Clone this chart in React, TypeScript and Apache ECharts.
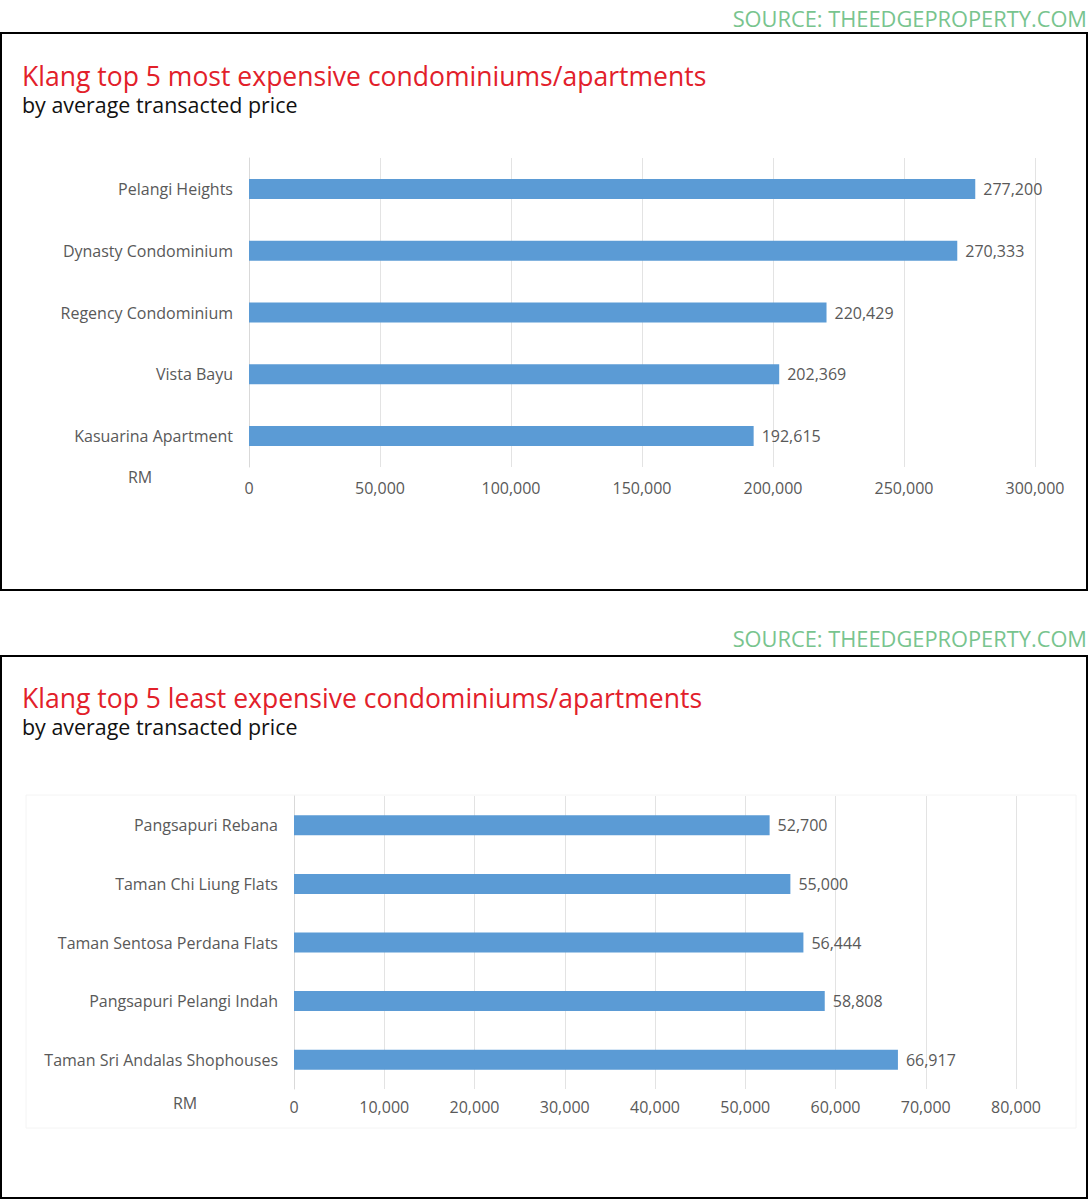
import React, { useEffect, useRef } from "react";
import * as echarts from "echarts";

const topCategories = ["Pelangi Heights", "Dynasty Condominium", "Regency Condominium", "Vista Bayu", "Kasuarina Apartment"];
const topValues = [277200, 270333, 220429, 202369, 192615];
const bottomCategories = ["Pangsapuri Rebana", "Taman Chi Liung Flats", "Taman Sentosa Perdana Flats", "Pangsapuri Pelangi Indah", "Taman Sri Andalas Shophouses"];
const bottomValues = [52700, 55000, 56444, 58808, 66917];

const topTitle = "Klang top 5 most expensive condominiums/apartments";
const bottomTitle = "Klang top 5 least expensive condominiums/apartments";
const subTitle = "by average transacted price";
const sourceText = "SOURCE: THEEDGEPROPERTY.COM";

const BAR = "#5b9bd5";
const LABEL = "#595959";
const TITLE_FONT = "'Open Sans', 'Noto Sans', sans-serif";
const BODY_FONT = "'Open Sans', 'Noto Sans', sans-serif";

const fmt = (v: number) => v.toLocaleString("en-US");

export default function App() {
  const ref = useRef<HTMLDivElement>(null);
  useEffect(() => {
    document.body.style.margin = "0";
    const chart = echarts.init(ref.current!, null, { renderer: "svg" });
    const yAxisCommon = (data: string[], idx: number) => ({
      type: "category",
      gridIndex: idx,
      data,
      inverse: true,
      axisLine: { show: true, lineStyle: { color: "#d9d9d9", width: 1 } },
      axisTick: { show: false },
      axisLabel: { color: LABEL, fontSize: 16, fontFamily: BODY_FONT, margin: 16 },
      splitLine: { show: false },
    });
    const xAxisCommon = (idx: number, max: number, interval: number, margin: number) => ({
      type: "value",
      gridIndex: idx,
      min: 0,
      max,
      interval,
      axisLine: { show: false },
      axisTick: { show: false },
      axisLabel: { color: LABEL, fontSize: 16, fontFamily: BODY_FONT, margin, formatter: (v: number) => fmt(v) },
      splitLine: { show: true, lineStyle: { color: "#e3e3e3", width: 1 } },
    });
    const seriesCommon = (data: number[], idx: number) => ({
      type: "bar",
      xAxisIndex: idx,
      yAxisIndex: idx,
      data,
      barWidth: 20,
      itemStyle: { color: BAR },
      label: {
        show: true,
        position: "right",
        distance: 8,
        color: LABEL,
        fontSize: 16,
        fontFamily: BODY_FONT,
        formatter: (p: any) => fmt(p.value),
      },
    });
    const textEl = (x: number, y: number, text: string, size: number, color: string, align = "left", font = TITLE_FONT, scaleX = 1) => ({
      type: "text",
      x,
      y,
      scaleX,
      style: { text, fontSize: size, fill: color, fontFamily: font, align, verticalAlign: "middle" },
    });
    chart.setOption({
      animation: false,
      backgroundColor: "#ffffff",
      grid: [
        { left: 249, top: 158, width: 786, height: 309 },
        { left: 294, top: 796, width: 722, height: 293 },
      ],
      xAxis: [xAxisCommon(0, 300000, 50000, 13), xAxisCommon(1, 80000, 10000, 10)],
      yAxis: [yAxisCommon(topCategories, 0), yAxisCommon(bottomCategories, 1)],
      series: [seriesCommon(topValues, 0), seriesCommon(bottomValues, 1)],
      graphic: [
        { type: "rect", shape: { x: 1, y: 33, width: 1086, height: 557 }, style: { fill: "none", stroke: "#000", lineWidth: 2 } },
        { type: "rect", shape: { x: 1, y: 656, width: 1086, height: 542 }, style: { fill: "none", stroke: "#000", lineWidth: 2 } },
        { type: "rect", shape: { x: 26, y: 795, width: 1050, height: 333 }, style: { fill: "none", stroke: "#f4f4f4", lineWidth: 1 } },
        textEl(1087, 19, sourceText, 21, "#78c48e", "right", TITLE_FONT, 1.04),
        textEl(1087, 639, sourceText, 21, "#78c48e", "right", TITLE_FONT, 1.04),
        textEl(22, 75, topTitle, 28, "#e2202a", "left", TITLE_FONT, 0.948),
        textEl(22, 104, subTitle, 22, "#111111", "left", TITLE_FONT, 0.974),
        textEl(22, 697, bottomTitle, 28, "#e2202a", "left", TITLE_FONT, 0.948),
        textEl(22, 726, subTitle, 22, "#111111", "left", TITLE_FONT, 0.974),
        textEl(140, 477, "RM", 16, LABEL, "center", BODY_FONT),
        textEl(185, 1103, "RM", 16, LABEL, "center", BODY_FONT),
      ],
    });
    return () => chart.dispose();
  }, []);
  return <div ref={ref} style={{ position: "absolute", left: 0, top: 0, width: 1089, height: 1200 }} />;
}
